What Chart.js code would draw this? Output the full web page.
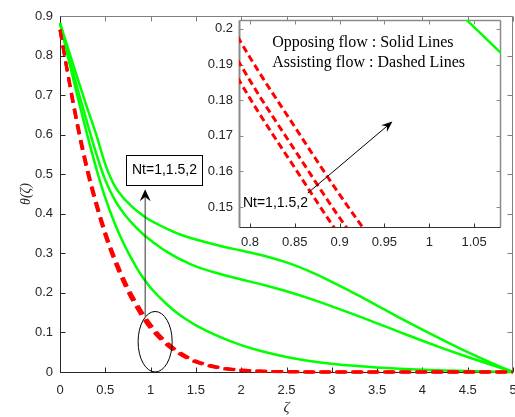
<!DOCTYPE html>
<html>
<head>
<meta charset="utf-8">
<script src="https://cdn.jsdelivr.net/npm/chart.js@4.4.1/dist/chart.umd.min.js"></script>
<style>
html, body { margin: 0; padding: 0; background: #fff; }
#wrap { position: relative; width: 515px; height: 417px; }
#wrap canvas { position: absolute; left: 0; top: 0; }
</style>
</head>
<body>
<div id="wrap">
	<canvas id="main" width="515" height="417"></canvas>
	<canvas id="inset" width="515" height="417"></canvas>
</div>
<script>
// zeta grid shared by all six profiles
var zeta = [0, 0.1, 0.2, 0.3, 0.4, 0.5, 0.6, 0.7, 0.75, 0.8, 0.85, 0.9, 0.95, 1.0, 1.05, 1.1, 1.2, 1.3, 1.4, 1.5,
	1.75, 2, 2.25, 2.5, 2.75, 3, 3.25, 3.5, 3.75, 4, 4.25, 4.5, 4.75, 5];

// assisting flow (dashed), Nt = 1, 1.5, 2
var assist1 = [0.865, 0.74, 0.622, 0.518, 0.431, 0.355, 0.292, 0.238, 0.214, 0.192, 0.1725, 0.1535, 0.136, 0.120, 0.106, 0.093, 0.071, 0.053, 0.039, 0.028,
	0.012, 0.005, 0.002, 0.001, 0.0003, 0, 0, 0, 0, 0, 0, 0, 0, 0];
var assist2 = [0.865, 0.736, 0.616, 0.512, 0.425, 0.349, 0.286, 0.2315, 0.2075, 0.1855, 0.166, 0.147, 0.130, 0.1145, 0.101, 0.088, 0.067, 0.050, 0.037, 0.026,
	0.011, 0.0045, 0.0018, 0.0008, 0.0002, 0, 0, 0, 0, 0, 0, 0, 0, 0];
var assist3 = [0.865, 0.733, 0.611, 0.507, 0.42, 0.344, 0.281, 0.2265, 0.2025, 0.1805, 0.161, 0.142, 0.125, 0.110, 0.097, 0.085, 0.064, 0.048, 0.035, 0.025,
	0.010, 0.004, 0.0015, 0.0006, 0.0002, 0, 0, 0, 0, 0, 0, 0, 0, 0];

// opposing flow (solid)
var oppose1 = [0.882, 0.81, 0.738, 0.668, 0.600, 0.525, 0.472, 0.44, 0.428, 0.417, 0.407, 0.398, 0.39, 0.383, 0.377, 0.371, 0.36, 0.35, 0.342, 0.335,
	0.32, 0.307, 0.294, 0.277, 0.255, 0.228, 0.199, 0.168, 0.137, 0.107, 0.078, 0.05, 0.024, 0];
var oppose2 = [0.882, 0.795, 0.71, 0.63, 0.552, 0.485, 0.437, 0.402, 0.388, 0.375, 0.363, 0.352, 0.342, 0.333, 0.324, 0.316, 0.301, 0.288, 0.277, 0.267,
	0.249, 0.234, 0.22, 0.204, 0.186, 0.166, 0.145, 0.123, 0.101, 0.079, 0.058, 0.038, 0.019, 0];
var oppose3 = [0.882, 0.785, 0.69, 0.60, 0.515, 0.44, 0.378, 0.326, 0.303, 0.282, 0.262, 0.244, 0.228, 0.213, 0.2005, 0.1885, 0.167, 0.148, 0.132, 0.118,
	0.09, 0.068, 0.051, 0.038, 0.028, 0.021, 0.0155, 0.0115, 0.0085, 0.006, 0.004, 0.0025, 0.001, 0];

// tick values
var mainXTicks = [0, 0.5, 1, 1.5, 2, 2.5, 3, 3.5, 4, 4.5, 5];
var mainYTicks = [0, 0.1, 0.2, 0.3, 0.4, 0.5, 0.6, 0.7, 0.8, 0.9];
var insetXTicks = [0.8, 0.85, 0.9, 0.95, 1, 1.05];
var insetYTicks = [0.15, 0.16, 0.17, 0.18, 0.19, 0.2];

var noteText = 'Nt=1,1.5,2';
var legendLines = ['Opposing flow : Solid Lines', 'Assisting flow : Dashed Lines'];

Chart.defaults.font.family = '"Liberation Sans", Arial, sans-serif';
Chart.defaults.color = '#262626';

function pts(ys) {
	return zeta.map(function (z, i) { return { x: z, y: ys[i] }; });
}

function buildSets(dash, redWidth, greenWidth, clip) {
	var sets = [];
	// red first so it is painted on top
	[assist1, assist2, assist3].forEach(function (ys) {
		sets.push({ data: pts(ys), borderColor: '#ff0000', borderWidth: redWidth, borderDash: dash,
			pointRadius: 0, cubicInterpolationMode: 'monotone', fill: false, clip: clip });
	});
	[oppose1, oppose2, oppose3].forEach(function (ys) {
		sets.push({ data: pts(ys), borderColor: '#00ff00', borderWidth: greenWidth,
			pointRadius: 0, cubicInterpolationMode: 'monotone', fill: false, clip: clip });
	});
	return sets;
}

function fixTicks(list) {
	return function (scale) {
		scale.ticks = list.map(function (v) { return { value: v }; });
	};
}

function tickLabel(v) {
	return String(+v.toFixed(3));
}

function drawArrow(ctx, x0, y0, x1, y1, len, half) {
	var ang = Math.atan2(y1 - y0, x1 - x0);
	var c = Math.cos(ang), s = Math.sin(ang);
	ctx.beginPath();
	ctx.moveTo(x0, y0);
	ctx.lineTo(x1 - c * len * 0.6, y1 - s * len * 0.6);
	ctx.stroke();
	ctx.beginPath();
	ctx.moveTo(x1, y1);
	ctx.lineTo(x1 - c * len - s * half, y1 - s * len + c * half);
	ctx.lineTo(x1 - c * len * 0.65, y1 - s * len * 0.65);
	ctx.lineTo(x1 - c * len + s * half, y1 - s * len - c * half);
	ctx.closePath();
	ctx.fill();
}

// MATLAB-like box with inward ticks on all four sides
var axesBox = {
	id: 'axesBox',
	beforeDatasetsDraw: function (chart, args, o) {
		var ctx = chart.ctx, a = chart.chartArea, sx = chart.scales.x, sy = chart.scales.y;
		var L = Math.round(a.left) + 0.5, R = Math.round(a.right) - 0.5;
		var T = Math.round(a.top) + 0.5, B = Math.round(a.bottom) + 0.5;
		ctx.save();
		if (o.fill) {
			ctx.fillStyle = o.fill;
			ctx.fillRect(a.left, a.top, a.right - a.left, a.bottom - a.top);
		}
		function seg(color, w, x0, y0, x1, y1) {
			ctx.strokeStyle = color;
			ctx.lineWidth = w;
			ctx.beginPath();
			ctx.moveTo(x0, y0);
			ctx.lineTo(x1, y1);
			ctx.stroke();
		}
		sx.ticks.forEach(function (t) {
			var px = Math.round(sx.getPixelForValue(t.value)) + 0.5;
			seg(o.colors.bottom, 1, px, B, px, B - o.tick);
			seg(o.colors.top, 1, px, T, px, T + o.tick);
		});
		sy.ticks.forEach(function (t) {
			var py = Math.round(sy.getPixelForValue(t.value)) + 0.5;
			seg(o.colors.left, 1, L, py, L + o.tick, py);
			seg(o.colors.right, 1, R, py, R - o.tick, py);
		});
		seg(o.colors.top, o.widths.top, L, T, R, T);
		seg(o.colors.right, o.widths.right, R, T, R, B);
		seg(o.colors.left, o.widths.left, L, T, L, B);
		seg(o.colors.bottom, o.widths.bottom, L, B, R, B);
		ctx.restore();
	}
};

// annotations placed in data units
var notes = {
	id: 'notes',
	afterDatasetsDraw: function (chart, args, o) {
		var ctx = chart.ctx, sx = chart.scales.x, sy = chart.scales.y;
		function X(v) { return sx.getPixelForValue(v); }
		function Y(v) { return sy.getPixelForValue(v); }
		ctx.save();
		ctx.strokeStyle = '#000';
		ctx.fillStyle = '#000';
		ctx.lineWidth = 1;
		(o.ellipses || []).forEach(function (e) {
			ctx.beginPath();
			ctx.ellipse(X(e.x), Y(e.y), X(e.x + e.rx) - X(e.x), Y(e.y) - Y(e.y + e.ry), 0, 0, 2 * Math.PI);
			ctx.stroke();
		});
		(o.arrows || []).forEach(function (ar) {
			ctx.strokeStyle = ar.color || '#000';
			drawArrow(ctx, X(ar.from[0]), Y(ar.from[1]), X(ar.to[0]), Y(ar.to[1]), ar.len, ar.half);
		});
		(o.boxes || []).forEach(function (b) {
			var x0 = Math.round(X(b.x0)) + 0.5, x1 = Math.round(X(b.x1)) + 0.5;
			var y0 = Math.round(Y(b.y1)) + 0.5, y1 = Math.round(Y(b.y0)) + 0.5;
			ctx.fillStyle = '#fff';
			ctx.fillRect(x0, y0, x1 - x0, y1 - y0);
			ctx.strokeStyle = '#000';
			ctx.strokeRect(x0, y0, x1 - x0, y1 - y0);
			ctx.fillStyle = '#000';
			ctx.font = b.font;
			ctx.textAlign = 'center';
			ctx.textBaseline = 'middle';
			ctx.fillText(b.text, (x0 + x1) / 2, (y0 + y1) / 2);
		});
		(o.texts || []).forEach(function (t) {
			ctx.fillStyle = '#000';
			ctx.font = t.font;
			ctx.textAlign = 'left';
			ctx.textBaseline = t.baseline;
			ctx.fillText(t.text, X(t.x), Y(t.y));
		});
		ctx.restore();
	}
};

new Chart(document.getElementById('main'), {
	type: 'line',
	data: { datasets: buildSets([10, 6], 3, 2.5, 4) },
	options: {
		responsive: false,
		animation: false,
		devicePixelRatio: 1,
		layout: { padding: { top: 16, right: 2, left: 0, bottom: 0 } },
		plugins: {
			legend: { display: false },
			tooltip: { enabled: false },
			axesBox: {
				tick: 5,
				colors: { left: '#262626', bottom: '#262626', top: '#7f7f7f', right: '#7f7f7f' },
				widths: { left: 1, bottom: 1, top: 1, right: 1 }
			},
			notes: {
				ellipses: [{ x: 1.05, y: 0.0765, rx: 0.188, ry: 0.0765 }],
				arrows: [{ from: [0.94, 0.14], to: [0.94, 0.462], len: 12, half: 5.5, color: '#333' }],
				boxes: [{ text: noteText, x0: 0.725, x1: 1.564, y0: 0.4727, y1: 0.5485, font: '14px "Liberation Sans", Arial' }]
			}
		},
		scales: {
			x: {
				type: 'linear', min: 0, max: 5,
				afterBuildTicks: fixTicks(mainXTicks),
				afterFit: function (s) { s.height = 45; s.paddingLeft = 0; s.paddingRight = 0; },
				grid: { display: false, drawTicks: false },
				border: { display: false },
				ticks: { callback: tickLabel, padding: 11, maxRotation: 0, autoSkip: false, color: '#262626', font: { size: 13 } },
				title: { display: true, text: 'ζ', color: '#262626', padding: { top: 0, bottom: 0 },
					font: { family: '"Liberation Serif", serif', style: 'italic', size: 15 } }
			},
			y: {
				type: 'linear', min: 0, max: 0.9,
				afterBuildTicks: fixTicks(mainYTicks),
				afterFit: function (s) { s.width = 60; s.paddingTop = 0; s.paddingBottom = 0; },
				grid: { display: false, drawTicks: false },
				border: { display: false },
				ticks: { callback: tickLabel, padding: 7, autoSkip: false, color: '#262626', font: { size: 13 } },
				title: { display: true, text: 'θ(ζ)', color: '#262626', padding: { top: 18, bottom: 0 },
					font: { family: '"Liberation Serif", serif', style: 'italic', size: 14 } }
			}
		}
	},
	plugins: [axesBox, notes]
});

new Chart(document.getElementById('inset'), {
	type: 'line',
	data: { datasets: buildSets([7, 4], 3, 2.5, 0) },
	options: {
		responsive: false,
		animation: false,
		devicePixelRatio: 1,
		layout: { padding: { top: 20, right: 14, left: 199, bottom: 165 } },
		plugins: {
			legend: { display: false },
			tooltip: { enabled: false },
			axesBox: {
				tick: 4,
				fill: '#ffffff',
				colors: { left: '#8a8a8a', bottom: '#333333', top: '#8a8a8a', right: '#8a8a8a' },
				widths: { left: 2, bottom: 1, top: 1.5, right: 1.5 }
			},
			notes: {
				arrows: [{ from: [0.8644, 0.1539], to: [0.9589, 0.174], len: 11, half: 4.5, color: '#000' }],
				texts: [
					{ text: noteText, x: 0.7922, y: 0.151, baseline: 'middle', font: '14px "Liberation Sans", Arial' },
					{ text: legendLines[0], x: 0.8248, y: 0.195, baseline: 'alphabetic', font: '16px "Liberation Serif", "Times New Roman", serif' },
					{ text: legendLines[1], x: 0.8248, y: 0.1894, baseline: 'alphabetic', font: '16px "Liberation Serif", "Times New Roman", serif' }
				]
			}
		},
		scales: {
			x: {
				type: 'linear', min: 0.7878, max: 1.08,
				afterBuildTicks: fixTicks(insetXTicks),
				afterFit: function (s) { s.height = 25; s.paddingLeft = 0; s.paddingRight = 0; },
				grid: { display: false, drawTicks: false },
				border: { display: false },
				ticks: { callback: tickLabel, padding: 8, maxRotation: 0, autoSkip: false, color: '#262626', font: { size: 13 } }
			},
			y: {
				type: 'linear', min: 0.1444, max: 0.2025,
				afterBuildTicks: fixTicks(insetYTicks),
				afterFit: function (s) { s.width = 40; s.paddingTop = 0; s.paddingBottom = 0; },
				grid: { display: false, drawTicks: false },
				border: { display: false },
				ticks: { callback: tickLabel, padding: 6, autoSkip: false, color: '#262626', font: { size: 13 } }
			}
		}
	},
	plugins: [axesBox, notes]
});
</script>
</body>
</html>
